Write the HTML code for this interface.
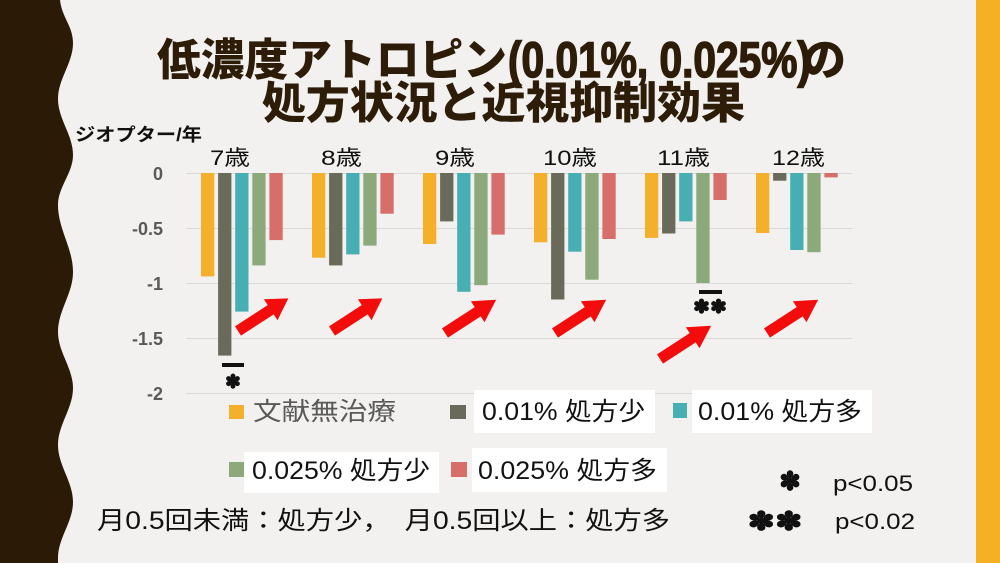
<!DOCTYPE html>
<html><head><meta charset="utf-8"><style>
html,body{margin:0;padding:0;background:#f2f1ef;width:1000px;height:563px;overflow:hidden;}
svg{display:block;position:absolute;left:0;top:0;}
.cj{font-family:"Liberation Sans","Noto Sans CJK JP",sans-serif;}
</style></head><body>
<svg width="1000" height="563" viewBox="0 0 1000 563" xmlns="http://www.w3.org/2000/svg">
<rect x="0" y="0" width="1000" height="563" fill="#f2f1ef"/>
<!-- left wavy border -->
<path fill="#2b1a06" d="M0,0 L60,0
C62,18 73,26 73,43
C73,63 58,79 58,99
C58,119 73,135 73,155
C73,173 58,187 58,205
C58,229 73,248 73,272
C73,293.6 58,310.4 58,332
C58,352 73,368 73,388
C73,408.5 58,424.5 58,445
C58,465.5 73,481.5 73,502
C73,522 58,538 58,558
L58,563 L0,563 Z"/>
<!-- right orange bar -->
<rect x="976" y="0" width="24" height="563" fill="#f5b024"/>

<!-- title -->
<g fill="#2d1c07">
<text class="cj" x="157" y="75" font-size="44" font-weight="900" textLength="350" lengthAdjust="spacingAndGlyphs">低濃度アトロピン</text>
<text x="508" y="77" font-family="'Liberation Sans Narrow','Liberation Sans',sans-serif" font-size="50" font-weight="bold" stroke="#2d1c07" stroke-width="1.6" textLength="303" lengthAdjust="spacingAndGlyphs">(0.01%, 0.025%)</text>
<text class="cj" x="802" y="75" font-size="44" font-weight="900">の</text>
<text class="cj" x="262" y="118" font-size="44" font-weight="900" textLength="483" lengthAdjust="spacingAndGlyphs">処方状況と近視抑制効果</text>
</g>

<!-- axis unit -->
<text class="cj" x="75" y="141" font-size="18" font-weight="bold" fill="#111" textLength="127" lengthAdjust="spacingAndGlyphs">ジオプター/年</text>

<!-- gridlines -->
<g stroke="#d9d9d9" stroke-width="1">
<line x1="186" y1="173.5" x2="852" y2="173.5"/>
<line x1="186" y1="228.5" x2="852" y2="228.5"/>
<line x1="186" y1="283.5" x2="852" y2="283.5"/>
<line x1="186" y1="338.5" x2="852" y2="338.5"/>
<line x1="186" y1="393.5" x2="852" y2="393.5"/>
</g>
<!-- y labels -->
<g font-family="'Liberation Sans',sans-serif" font-size="18" font-weight="bold" fill="#595959" text-anchor="end">
<text x="163" y="180">0</text>
<text x="163" y="235">-0.5</text>
<text x="163" y="290">-1</text>
<text x="163" y="345">-1.5</text>
<text x="163" y="400">-2</text>
</g>
<!-- category labels -->
<g class="cj" font-size="21" fill="#111">
<text class="cj" x="210" y="165" textLength="40" lengthAdjust="spacingAndGlyphs">7歳</text>
<text class="cj" x="321" y="165" textLength="41" lengthAdjust="spacingAndGlyphs">8歳</text>
<text class="cj" x="435" y="165" textLength="40" lengthAdjust="spacingAndGlyphs">9歳</text>
<text class="cj" x="543" y="165" textLength="54" lengthAdjust="spacingAndGlyphs">10歳</text>
<text class="cj" x="657" y="165" textLength="53" lengthAdjust="spacingAndGlyphs">11歳</text>
<text class="cj" x="772" y="165" textLength="53" lengthAdjust="spacingAndGlyphs">12歳</text>
</g>

<!-- bars -->
<g>
<rect x="201" y="173" width="13.3" height="103.4" fill="#f4b02a"/>
<rect x="218.1" y="173" width="13.3" height="182.6" fill="#696a5a"/>
<rect x="235.2" y="173" width="13.3" height="138.6" fill="#47afb4"/>
<rect x="252.3" y="173" width="13.3" height="92.4" fill="#8ca97c"/>
<rect x="269.4" y="173" width="13.3" height="67.1" fill="#d66e6a"/>
<rect x="312" y="173" width="13.3" height="84.7" fill="#f4b02a"/>
<rect x="329.1" y="173" width="13.3" height="92.4" fill="#696a5a"/>
<rect x="346.2" y="173" width="13.3" height="81.4" fill="#47afb4"/>
<rect x="363.3" y="173" width="13.3" height="72.6" fill="#8ca97c"/>
<rect x="380.4" y="173" width="13.3" height="40.7" fill="#d66e6a"/>
<rect x="423" y="173" width="13.3" height="71" fill="#f4b02a"/>
<rect x="440.1" y="173" width="13.3" height="48.4" fill="#696a5a"/>
<rect x="457.2" y="173" width="13.3" height="118.8" fill="#47afb4"/>
<rect x="474.3" y="173" width="13.3" height="112.2" fill="#8ca97c"/>
<rect x="491.4" y="173" width="13.3" height="61.6" fill="#d66e6a"/>
<rect x="534" y="173" width="13.3" height="69.3" fill="#f4b02a"/>
<rect x="551.1" y="173" width="13.3" height="126.5" fill="#696a5a"/>
<rect x="568.2" y="173" width="13.3" height="78.7" fill="#47afb4"/>
<rect x="585.3" y="173" width="13.3" height="106.7" fill="#8ca97c"/>
<rect x="602.4" y="173" width="13.3" height="66" fill="#d66e6a"/>
<rect x="645" y="173" width="13.3" height="64.9" fill="#f4b02a"/>
<rect x="662.1" y="173" width="13.3" height="60.5" fill="#696a5a"/>
<rect x="679.2" y="173" width="13.3" height="48.4" fill="#47afb4"/>
<rect x="696.3" y="173" width="13.3" height="110" fill="#8ca97c"/>
<rect x="713.4" y="173" width="13.3" height="27" fill="#d66e6a"/>
<rect x="756" y="173" width="13.3" height="60" fill="#f4b02a"/>
<rect x="773.1" y="173" width="13.3" height="7.7" fill="#696a5a"/>
<rect x="790.2" y="173" width="13.3" height="77" fill="#47afb4"/>
<rect x="807.3" y="173" width="13.3" height="79.2" fill="#8ca97c"/>
<rect x="824.4" y="173" width="13.3" height="4.4" fill="#d66e6a"/>
</g>

<!-- arrows -->
<g fill="#f20c0c">
<polygon transform="translate(238,331) rotate(-33)" points="0,-5.5 39,-5.5 39,-12.5 60,0 39,12.5 39,5.5 0,5.5"/>
<polygon transform="translate(332,331) rotate(-33)" points="0,-5.5 39,-5.5 39,-12.5 60,0 39,12.5 39,5.5 0,5.5"/>
<polygon transform="translate(445,333) rotate(-33)" points="0,-5.5 39,-5.5 39,-12.5 61,0 39,12.5 39,5.5 0,5.5"/>
<polygon transform="translate(555,333) rotate(-33)" points="0,-5.5 39,-5.5 39,-12.5 61,0 39,12.5 39,5.5 0,5.5"/>
<polygon transform="translate(660,359) rotate(-33)" points="0,-5.5 39,-5.5 39,-12.5 61,0 39,12.5 39,5.5 0,5.5"/>
<polygon transform="translate(767,333) rotate(-33)" points="0,-5.5 39,-5.5 39,-12.5 61,0 39,12.5 39,5.5 0,5.5"/>
</g>

<!-- significance markers in chart -->
<rect x="222" y="363" width="22" height="4" fill="#111"/>
<text x="233" y="388" font-family="'DejaVu Sans',sans-serif" font-size="19" fill="#111" stroke="#111" stroke-width="0.8" text-anchor="middle">✽</text>
<rect x="699" y="290" width="23" height="4" fill="#111"/>
<text x="710" y="313" font-family="'DejaVu Sans',sans-serif" font-size="19" fill="#111" stroke="#111" stroke-width="0.8" text-anchor="middle" textLength="34" lengthAdjust="spacingAndGlyphs">✽✽</text>

<!-- legend -->
<rect x="229" y="405" width="15" height="14" fill="#f4b02a"/>
<text class="cj" x="253" y="420" font-size="25" fill="#595959" textLength="143" lengthAdjust="spacingAndGlyphs">文献無治療</text>

<rect x="450" y="405" width="16" height="14" fill="#696a5a"/>
<rect x="474" y="390" width="181" height="43" fill="#ffffff"/>
<text class="cj" x="482" y="420" font-size="25" fill="#111" textLength="163" lengthAdjust="spacingAndGlyphs">0.01% 処方少</text>

<rect x="673" y="403" width="14" height="15" fill="#47afb4"/>
<rect x="692" y="390" width="180" height="43" fill="#ffffff"/>
<text class="cj" x="698" y="420" font-size="25" fill="#111" textLength="164" lengthAdjust="spacingAndGlyphs">0.01% 処方多</text>

<rect x="229" y="462" width="15" height="15" fill="#8ca97c"/>
<rect x="244" y="452" width="195" height="41" fill="#ffffff"/>
<text class="cj" x="252" y="479" font-size="25" fill="#111" textLength="178" lengthAdjust="spacingAndGlyphs">0.025% 処方少</text>

<rect x="451" y="462" width="16" height="15" fill="#d66e6a"/>
<rect x="472" y="448" width="195" height="44" fill="#ffffff"/>
<text class="cj" x="478" y="479" font-size="25" fill="#111" textLength="179" lengthAdjust="spacingAndGlyphs">0.025% 処方多</text>

<!-- bottom note -->
<text class="cj" x="97" y="529" font-size="25" fill="#111" textLength="573" lengthAdjust="spacingAndGlyphs">月0.5回未満：処方少，　月0.5回以上：処方多</text>

<!-- p-values -->
<text x="790" y="490" font-family="'DejaVu Sans',sans-serif" font-size="26" fill="#111" stroke="#111" stroke-width="1" text-anchor="middle">✽</text>
<text x="833" y="491" font-family="'Liberation Sans',sans-serif" font-size="22" fill="#111" textLength="80" lengthAdjust="spacingAndGlyphs">p&lt;0.05</text>
<text x="775" y="530" font-family="'DejaVu Sans',sans-serif" font-size="26" fill="#111" stroke="#111" stroke-width="1" text-anchor="middle" textLength="55" lengthAdjust="spacingAndGlyphs">✽✽</text>
<text x="835" y="529" font-family="'Liberation Sans',sans-serif" font-size="22" fill="#111" textLength="80" lengthAdjust="spacingAndGlyphs">p&lt;0.02</text>
</svg>
</body></html>
